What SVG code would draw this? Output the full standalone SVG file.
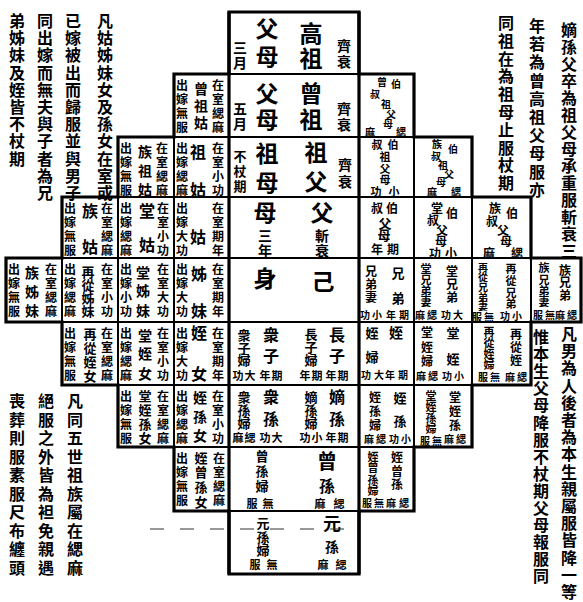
<svg xmlns="http://www.w3.org/2000/svg" width="583" height="602" viewBox="0 0 583 602">
<style>
.cell{fill:#fff;stroke:#000;stroke-width:2}
.frame{fill:none;stroke:#000;stroke-width:3.2}
.noise{fill:none;stroke:#333;stroke-width:1.1;stroke-dasharray:14 16}
text{font-family:"Noto Sans CJK TC","Noto Sans CJK SC","Noto Sans CJK JP",sans-serif;font-weight:700;fill:#000;text-anchor:middle;dominant-baseline:central}
.b{font-size:23px}.m{font-size:16px}.k{font-size:14px}.j{font-size:13px}.s{font-size:12px}.r{font-size:11px}.t{font-size:10px}.note{font-size:16px}
</style>
<rect width="583" height="602" fill="#fff"/>

<!-- centre column -->
<g id="n-gaozu"><rect class="cell" x="229" y="12" width="130" height="62"/>
<text class="b" x="311 311" y="32 57">高祖</text><text class="b" x="267 267" y="27 55">父母</text>
<text class="k" x="344 344" y="45 61">齊衰</text><text class="k" x="240 240" y="47 62">三月</text></g>
<g id="n-zengzu"><rect class="cell" x="229" y="74" width="130" height="63"/>
<text class="b" x="311 311" y="92 118">曾祖</text><text class="b" x="267 267" y="92 118">父母</text>
<text class="k" x="344 344" y="108 124">齊衰</text><text class="k" x="240 240" y="108 123">五月</text></g>
<g id="n-zu"><rect class="cell" x="229" y="137" width="130" height="60"/>
<text class="b" x="316 316" y="151 180">祖父</text><text class="b" x="267 267" y="152 181">祖母</text>
<text class="k" x="345 345" y="164 181">齊衰</text><text class="j" x="240 240 240" y="155 170 185">不杖期</text></g>
<g id="n-fumu"><rect class="cell" x="229" y="197" width="130" height="61"/>
<text class="b" x="322" y="211">父</text><text class="k" x="322 322" y="235 250">斬衰</text>
<text class="b" x="265" y="211">母</text><text class="k" x="265 265" y="235 250">三年</text></g>
<g id="n-ji"><rect class="cell" x="229" y="258" width="130" height="64"/>
<text class="b" x="265" y="277">身</text><text class="b" x="323" y="280">己</text></g>
<g id="n-zi"><rect class="cell" x="229" y="322" width="130" height="63"/>
<text class="m" x="337 337" y="334 355">長子</text><text class="j" x="311 311 311" y="333 346 359">長子婦</text>
<text class="m" x="271 271" y="334 355">衆子</text><text class="j" x="244 244 244" y="334 347 359">衆子婦</text>
<text class="r" x="238 250" y="375 375">功大</text><text class="r" x="265 277" y="375 375">年期</text>
<text class="r" x="305 317" y="375 375">年期</text><text class="r" x="331 343" y="375 375">年期</text></g>
<g id="n-sun"><rect class="cell" x="229" y="385" width="130" height="62"/>
<text class="m" x="337 337" y="396 418">嫡孫</text><text class="j" x="311 311 311" y="396 409 422">嫡孫婦</text>
<text class="m" x="271 271" y="396 418">衆孫</text><text class="j" x="244 244 244" y="396 409 422">衆孫婦</text>
<text class="r" x="238 250" y="437 437">麻緦</text><text class="r" x="265 277" y="437 437">功大</text>
<text class="r" x="305 317" y="437 437">功小</text><text class="r" x="331 343" y="437 437">年期</text></g>
<g id="n-zengsun"><rect class="cell" x="229" y="447" width="130" height="64"/>
<text style="font-size:20px" x="327" y="460">曾</text><text class="m" x="327" y="485">孫</text>
<text class="j" x="262 262 262" y="455 470 485">曾孫婦</text>
<text class="r" x="252 268" y="503 503">服無</text><text class="r" x="320 339" y="503 503">麻緦</text></g>
<g id="n-xuansun"><rect class="cell" x="229" y="511" width="130" height="63"/>
<text style="font-size:18px" x="332" y="522">元</text><text class="k" x="332" y="546">孫</text>
<text class="j" x="263 263 263" y="522 536 549">元孫婦</text>
<text class="r" x="255 272" y="564 564">服無</text><text class="r" x="323 341" y="564 564">麻緦</text></g>

<!-- left side (female relatives) -->
<g id="n-zengzugu"><rect class="cell" x="174" y="74" width="55" height="63"/>
<text class="s" x="218 218 218 218" y="84 98 112 126">在室緦麻</text>
<text class="k" x="201 201 201" y="88 105 122">曾祖姑</text>
<text class="s" x="182 182 182 182" y="84 98 112 126">出嫁無服</text></g>
<g id="n-zuzugu"><rect class="cell" x="118" y="137" width="56" height="60"/>
<text class="s" x="162 162 162 162" y="147 161 175 189">在室緦麻</text>
<text class="k" x="145 145 145" y="151 170 189">族祖姑</text>
<text class="s" x="126 126 126 126" y="147 161 175 189">出嫁無服</text></g>
<g id="n-zugu"><rect class="cell" x="174" y="137" width="55" height="60"/>
<text class="s" x="218 218 218 218" y="147 161 175 189">在室小功</text>
<text class="m" x="198 198" y="151 189">祖姑</text>
<text class="s" x="182 182 182 182" y="147 161 175 189">出嫁緦麻</text></g>
<g id="n-zugu5"><rect class="cell" x="62" y="197" width="56" height="61"/>
<text class="s" x="107 107 107 107" y="207 221 235 249">在室緦麻</text>
<text class="m" x="90 90" y="210 246">族姑</text>
<text class="s" x="70 70 70 70" y="207 221 235 249">出嫁無服</text></g>
<g id="n-tanggu"><rect class="cell" x="118" y="197" width="56" height="61"/>
<text class="s" x="163 163 163 163" y="207 221 235 249">在室小功</text>
<text class="m" x="147 147" y="210 244">堂姑</text>
<text class="s" x="126 126 126 126" y="207 221 235 249">出嫁緦麻</text></g>
<g id="n-gu"><rect class="cell" x="174" y="197" width="55" height="61"/>
<text class="s" x="218 218 218 218" y="207 221 235 249">在室期年</text>
<text class="m" x="198" y="236">姑</text>
<text class="s" x="182 182 182 182" y="207 221 235 249">出嫁大功</text></g>
<g id="n-zuzimei"><rect class="cell" x="6" y="258" width="56" height="64"/>
<text class="s" x="51 51 51 51" y="268 282 296 310">在室緦麻</text>
<text class="k" x="32 32 32" y="272 291 310">族姊妹</text>
<text class="s" x="14 14 14 14" y="268 282 296 310">出嫁無服</text></g>
<g id="n-zaicongzimei"><rect class="cell" x="62" y="258" width="56" height="64"/>
<text class="s" x="107 107 107 107" y="268 282 296 310">在室小功</text>
<text class="j" x="88 88 88 88" y="271 284 297 310">再從姊妹</text>
<text class="s" x="70 70 70 70" y="268 282 296 310">出嫁緦麻</text></g>
<g id="n-tangzimei"><rect class="cell" x="118" y="258" width="56" height="64"/>
<text class="s" x="163 163 163 163" y="268 282 296 310">在室大功</text>
<text class="k" x="143 143 143" y="272 290 310">堂姊妹</text>
<text class="s" x="126 126 126 126" y="268 282 296 310">出嫁小功</text></g>
<g id="n-zimei"><rect class="cell" x="174" y="258" width="55" height="64"/>
<text class="s" x="218 218 218 218" y="268 282 296 310">在室期年</text>
<text class="m" x="199 199" y="273 310">姊妹</text>
<text class="s" x="182 182 182 182" y="268 282 296 310">出嫁大功</text></g>
<g id="n-zaicongzhinv"><rect class="cell" x="62" y="322" width="56" height="63"/>
<text class="s" x="107 107 107 107" y="332 346 360 374">在室緦麻</text>
<text class="j" x="90 90 90 90" y="333 347 361 375">再從姪女</text>
<text class="s" x="70 70 70 70" y="332 346 360 374">出嫁無服</text></g>
<g id="n-tangzhinv"><rect class="cell" x="118" y="322" width="56" height="63"/>
<text class="s" x="163 163 163 163" y="332 346 360 374">在室小功</text>
<text class="k" x="145 145 145" y="335 353 373">堂姪女</text>
<text class="s" x="126 126 126 126" y="332 346 360 374">出嫁緦麻</text></g>
<g id="n-zhinv"><rect class="cell" x="174" y="322" width="55" height="63"/>
<text class="s" x="218 218 218 218" y="332 346 360 374">在室期年</text>
<text class="m" x="199 199" y="332 373">姪女</text>
<text class="s" x="182 182 182 182" y="332 346 360 374">出嫁大功</text></g>
<g id="n-tangzhisunnv"><rect class="cell" x="118" y="385" width="56" height="62"/>
<text class="s" x="163 163 163 163" y="395 409 423 437">在室緦麻</text>
<text class="j" x="145 145 145 145" y="395 409 423 437">堂姪孫女</text>
<text class="s" x="126 126 126 126" y="395 409 423 437">出嫁無服</text></g>
<g id="n-zhisunnv"><rect class="cell" x="174" y="385" width="55" height="62"/>
<text class="s" x="218 218 218 218" y="395 409 423 437">在室小功</text>
<text class="k" x="200 200 200" y="397 416 435">姪孫女</text>
<text class="s" x="182 182 182 182" y="395 409 423 437">出嫁緦麻</text></g>
<g id="n-zhizengsunnv"><rect class="cell" x="174" y="447" width="55" height="64"/>
<text class="s" x="219 219 219 219" y="457 471 485 499">在室緦麻</text>
<text class="j" x="201 201 201 201" y="457 471 486 501">姪曾孫女</text>
<text class="s" x="182 182 182 182" y="457 471 485 499">出嫁無服</text></g>

<!-- right side (male relatives) -->
<g id="n-zengboshuzu"><rect class="cell" x="359" y="74" width="55" height="63"/>
<text class="t" x="382 396 375 386 391 388 370 401" y="81 83 93 103 113 123 131 131">曾伯叔祖父母麻緦</text></g>
<g id="n-boshuzu"><rect class="cell" x="359" y="137" width="55" height="60"/>
<text class="r" x="393 377 385 385 385 394 376" y="144 144 156 168 179 191 191">伯叔祖父母小功</text></g>
<g id="n-zuboshuzu"><rect class="cell" x="414" y="137" width="58" height="60"/>
<text class="t" x="437 453 436 443 449 441 432 456" y="143 148 155 164 173 181 191 191">族伯叔祖父母麻緦</text></g>
<g id="n-boshu"><rect class="cell" x="359" y="197" width="55" height="61"/>
<text class="s" x="392 377" y="207 207">伯叔</text><text class="j" x="385 384" y="222 234">父母</text>
<text class="s" x="377 393" y="248 248">年期</text></g>
<g id="n-tangboshu"><rect class="cell" x="414" y="197" width="58" height="61"/>
<text class="s" x="437 452 433 442 441 435 451" y="207 212 219 229 240 252 252">堂伯叔父母功小</text></g>
<g id="n-zuboshu"><rect class="cell" x="472" y="197" width="59" height="61"/>
<text class="s" x="495 512 492 503 506 489 517" y="207 212 220 229 240 252 252">族伯叔父母麻緦</text></g>
<g id="n-xiongdi"><rect class="cell" x="359" y="258" width="55" height="64"/>
<text class="j" x="398 398" y="272 297">兄弟</text><text class="t" x="391 404" y="314 314">年期</text>
<text class="s" x="371 371 371" y="270 283 296">兄弟妻</text><text class="t" x="365 377" y="314 314">功小</text></g>
<g id="n-tangxiongdi"><rect class="cell" x="414" y="258" width="58" height="64"/>
<text class="s" x="452 452 452" y="270 283 296">堂兄弟</text><text class="t" x="446 458" y="314 314">功大</text>
<text class="r" x="426 426 426 426" y="268 279 290 301">堂兄弟妻</text><text class="t" x="420 432" y="314 314">麻緦</text></g>
<g id="n-zaicongxiongdi"><rect class="cell" x="472" y="258" width="59" height="64"/>
<text class="r" x="511 511 511 511" y="268 280 292 303">再從兄弟</text><text class="t" x="505 517" y="315 315">功小</text>
<text class="t" x="483 483 483 483 483" y="266 276 286 296 305">再從兄弟妻</text><text class="t" x="477 489" y="316 316">服無</text></g>
<g id="n-zuxiongdi"><rect class="cell" x="531" y="258" width="50" height="64"/>
<text class="s" x="565 565 565" y="269 281 294">族兄弟</text><text class="t" x="560 572" y="314 314">麻緦</text>
<text class="r" x="544 544 544 544" y="267 279 290 301">族兄弟妻</text><text class="t" x="538 550" y="314 314">服無</text></g>
<g id="n-zhi"><rect class="cell" x="359" y="322" width="55" height="63"/>
<text class="k" x="396" y="332">姪</text><text class="t" x="390 403" y="374 374">年期</text>
<text class="j" x="372 372" y="332 356">姪婦</text><text class="t" x="366 379" y="374 374">功大</text></g>
<g id="n-tangzhi"><rect class="cell" x="414" y="322" width="58" height="63"/>
<text class="j" x="453 453" y="332 358">堂姪</text><text class="t" x="447 459" y="375 375">功小</text>
<text class="s" x="427 427 427" y="331 346 360">堂姪婦</text><text class="t" x="421 433" y="375 375">麻緦</text></g>
<g id="n-zaicongzhi"><rect class="cell" x="472" y="322" width="59" height="63"/>
<text class="s" x="516 516 516" y="333 346 359">再從姪</text><text class="t" x="510 522" y="376 376">麻緦</text>
<text class="r" x="489 489 489 489" y="331 342 353 364">再從姪婦</text><text class="t" x="483 495" y="376 376">服無</text></g>
<g id="n-zhisun"><rect class="cell" x="359" y="385" width="55" height="62"/>
<text class="j" x="400 400" y="397 420">姪孫</text><text class="t" x="394 406" y="438 438">功小</text>
<text class="s" x="375 375 375" y="396 410 424">姪孫婦</text><text class="t" x="369 381" y="438 438">麻緦</text></g>
<g id="n-tangzhisun"><rect class="cell" x="414" y="385" width="58" height="62"/>
<text class="s" x="455 455 455" y="396 410 424">堂姪孫</text><text class="t" x="449 461" y="438 438">麻緦</text>
<text class="r" x="431 431 431 431" y="395 406 417 428">堂姪孫婦</text><text class="t" x="425 437" y="440 440">服無</text></g>
<g id="n-zhizengsun"><rect class="cell" x="359" y="447" width="55" height="64"/>
<text class="s" x="397 397 397" y="456 470 483">姪曾孫</text><text class="t" x="391 404" y="502 502">麻緦</text>
<text class="r" x="373 373 373 373" y="456 467 479 490">姪曾孫婦</text><text class="t" x="367 379" y="502 502">服無</text></g>

<!-- outer stepped outline -->
<g id="frame">
<path class="frame" d="M229 12H359V74H414V137H472V197H531V258H581V322H531V385H472V447H414V511H359V574H229V511H174V447H118V385H62V322H6V258H62V197H118V137H174V74H229Z"/>
<path class="frame" d="M229 12V574M359 12V574"/>
</g>
<g id="connectors">
<path class="noise" d="M150 529H360"/>
</g>

<!-- notes -->
<g id="note-top-left">
<text class="note" x="105 105 105 105 105 105 105 105 105 105 105" y="20 37 54 72 89 106 123 140 158 175 192">凡姑姊妹女及孫女在室或</text>
<text class="note" x="73 73 73 73 73 73 73 73 73 73 73" y="20 37 54 72 89 106 123 140 158 175 192">已嫁被出而歸服並與男子</text>
<text class="note" x="45 45 45 45 45 45 45 45 45 45 45" y="20 37 54 72 89 106 123 140 158 175 192">同出嫁而無夫與子者為兄</text>
<text class="note" x="17 17 17 17 17 17 17 17 17" y="20 37 54 72 89 106 123 140 158">弟姊妹及姪皆不杖期</text>
</g>
<g id="note-top-right">
<text class="note" x="569 569 569 569 569 569 569 569 569 569 569 569 569 569" y="29 46 63 80 97 114 131 148 165 182 199 216 233 250">嫡孫父卒為祖父母承重服斬衰三</text>
<text class="note" x="537 537 537 537 537 537 537 537 537 537" y="25 43 61 80 98 116 134 152 171 189">年若為曾高祖父母服亦</text>
<text class="note" x="506 506 506 506 506 506 506 506 506 506" y="22 40 58 75 93 111 129 147 164 182">同祖在為祖母止服杖期</text>
</g>
<g id="note-bottom-right">
<text class="note" x="569 569 569 569 569 569 569 569 569 569 569 569 569 569 569 569" y="333 350 367 385 402 419 436 453 471 488 505 522 539 557 574 591">凡男為人後者為本生親屬服皆降一等</text>
<text class="note" x="541 541 541 541 541 541 541 541 541 541 541 541 541 541 541" y="336 353 370 387 404 422 439 456 473 490 507 524 541 558 575">惟本生父母降服不杖期父母報服同</text>
</g>
<g id="note-bottom-left">
<text class="note" x="75 75 75 75 75 75 75 75 75 75" y="400 419 437 456 474 493 511 530 548 567">凡同五世祖族屬在緦麻</text>
<text class="note" x="46 46 46 46 46 46 46 46 46 46" y="400 419 437 456 474 493 511 530 548 567">絕服之外皆為袒免親遇</text>
<text class="note" x="17 17 17 17 17 17 17 17 17 17" y="400 419 437 456 474 493 511 530 548 567">喪葬則服素服尺布纏頭</text>
</g>
</svg>
